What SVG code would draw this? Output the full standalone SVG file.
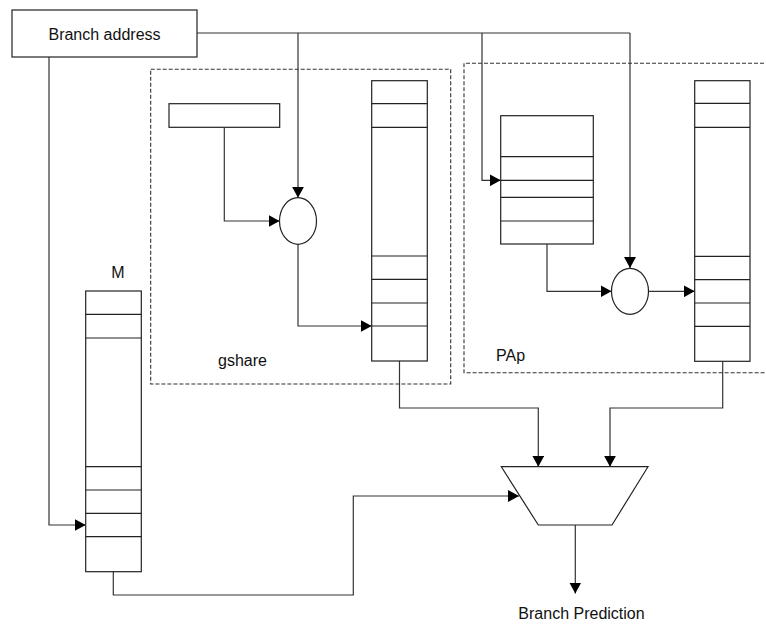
<svg xmlns="http://www.w3.org/2000/svg" width="766" height="625" viewBox="0 0 766 625">
<style>
.box{fill:#fff;stroke:#222;stroke-width:1.2}
.row{stroke:#222;stroke-width:1.2;fill:none}
.dash{fill:none;stroke:#333;stroke-width:1.1;stroke-dasharray:4,2}
.wire{fill:none;stroke:#333;stroke-width:1.2}
text{font-family:"Liberation Sans",Arial,sans-serif;font-size:16px;fill:#111}
</style>
<defs>
<marker id="arr" markerWidth="11" markerHeight="12" refX="11" refY="6" orient="auto" markerUnits="userSpaceOnUse">
<path d="M0,0 L11,6 L0,12 z" fill="#000"/>
</marker>
</defs>
<rect width="766" height="625" fill="#fff"/>

<g id="gshare-region">
<rect class="dash" x="150.7" y="69.3" width="300" height="314.7"/>
<text x="218" y="366">gshare</text>
</g>
<g id="pap-region">
<path class="dash" d="M770,63.3 H464 V372.7 H770"/>
<text x="496" y="361">PAp</text>
</g>

<g id="connectors">
<path class="wire" d="M197,33 H630"/>
<path class="wire" d="M298,33 V197.7" marker-end="url(#arr)"/>
<path class="wire" d="M482,33 V180.3 H500.7" marker-end="url(#arr)"/>
<path class="wire" d="M630,33 V268" marker-end="url(#arr)"/>
<path class="wire" d="M224.3,127.3 V221 H279.5" marker-end="url(#arr)"/>
<path class="wire" d="M298,244.3 V326 H371.7" marker-end="url(#arr)"/>
<path class="wire" d="M547,244 V291.3 H611.5" marker-end="url(#arr)"/>
<path class="wire" d="M648.5,291.3 H694.7" marker-end="url(#arr)"/>
<path class="wire" d="M49,57 V525 H85.7" marker-end="url(#arr)"/>
<path class="wire" d="M399.5,361 V408 H538.3 V466.7" marker-end="url(#arr)"/>
<path class="wire" d="M722.7,361.3 V408 H610 V466.7" marker-end="url(#arr)"/>
<path class="wire" d="M113.3,571.7 V595 H353.3 V496 H519" marker-end="url(#arr)"/>
<path class="wire" d="M575.3,525 V593.5" marker-end="url(#arr)"/>
</g>

<g id="branch-address">
<rect class="box" x="12" y="10" width="185" height="47"/>
<text x="104.5" y="39.5" text-anchor="middle">Branch address</text>
</g>

<g id="ghr">
<rect class="box" x="169" y="103.7" width="110.7" height="23.6"/>
</g>

<g id="gshare-xor">
<ellipse class="box" cx="298" cy="221" rx="18.5" ry="23.3"/>
</g>

<g id="gshare-pht">
<rect class="box" x="371.7" y="80.7" width="55.6" height="280.3"/>
<path class="row" d="M371.7,103.7 H427.3 M371.7,127.3 H427.3 M371.7,256 H427.3 M371.7,279.3 H427.3 M371.7,303 H427.3 M371.7,326 H427.3"/>
</g>

<g id="pap-bht">
<rect class="box" x="500.7" y="115.7" width="92.6" height="128.3"/>
<path class="row" d="M500.7,156.7 H593.3 M500.7,180.3 H593.3 M500.7,197.3 H593.3 M500.7,221 H593.3"/>
</g>

<g id="pap-xor">
<ellipse class="box" cx="630" cy="291.3" rx="18.5" ry="23"/>
</g>

<g id="pap-pht">
<rect class="box" x="694.7" y="80.7" width="55.3" height="280.6"/>
<path class="row" d="M694.7,103.3 H750 M694.7,127.3 H750 M694.7,256.3 H750 M694.7,279.7 H750 M694.7,303 H750 M694.7,326.3 H750"/>
</g>

<g id="meta">
<text x="118" y="277.7" text-anchor="middle">M</text>
<rect class="box" x="85.7" y="291" width="55.6" height="280.7"/>
<path class="row" d="M85.7,314.3 H141.3 M85.7,338 H141.3 M85.7,466.7 H141.3 M85.7,490 H141.3 M85.7,513.3 H141.3 M85.7,536.7 H141.3"/>
</g>

<g id="mux">
<path class="box" d="M501.3,466.7 H648 L612,525 H538.3 Z"/>
</g>

<g id="prediction">
<text x="581.5" y="619.3" text-anchor="middle">Branch Prediction</text>
</g>
</svg>
